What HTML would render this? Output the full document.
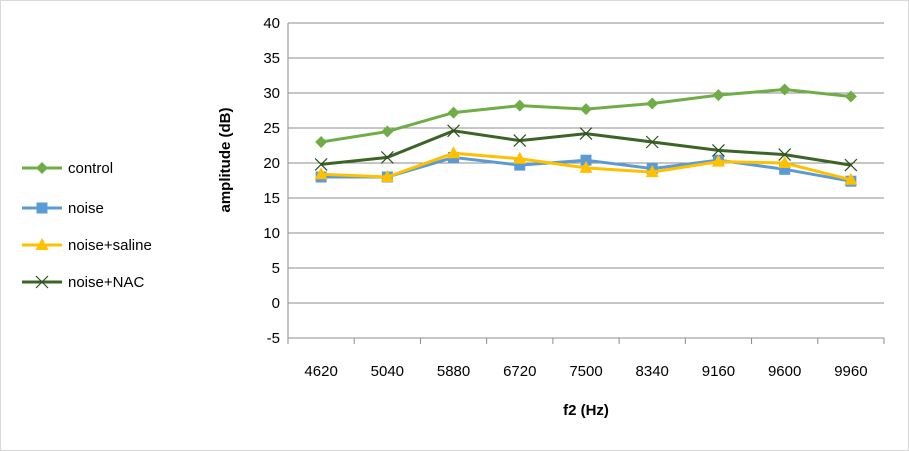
<!DOCTYPE html>
<html><head><meta charset="utf-8"><style>
body{margin:0;background:#fff}
svg{display:block;font-family:"Liberation Sans",sans-serif}
</style></head><body>
<svg id="c" width="909" height="451">
<rect x="0.5" y="0.5" width="908" height="450" fill="#fff" stroke="#d9d9d9"/>
<g id="grid"></g><g id="series"></g><g id="legend"></g>
<text x="230" y="160" font-size="15" font-weight="bold" text-anchor="middle" transform="rotate(-90 230 160)">amplitude (dB)</text>
<text x="586" y="415" font-size="15" font-weight="bold" text-anchor="middle">f2 (Hz)</text>
</svg>
<script>
const categories=["4620","5040","5880","6720","7500","8340","9160","9600","9960"];
const yTicks=[-5,0,5,10,15,20,25,30,35,40];
const control=[23,24.5,27.2,28.2,27.7,28.5,29.7,30.5,29.5];
const noise=[18,18,20.8,19.7,20.4,19.2,20.4,19.1,17.4];
const saline=[18.4,18,21.4,20.6,19.3,18.7,20.2,20,17.6];
const nac=[19.8,20.8,24.6,23.2,24.2,23,21.8,21.2,19.7];
const NS="http://www.w3.org/2000/svg";
const L=288,R=884,T=23,B=338;
const yS=v=>B-(v+5)/45*(B-T);
const bw=(R-L)/categories.length;
const xS=i=>L+bw*(i+0.5);
function mk(tag,attrs,parent){const e=document.createElementNS(NS,tag);for(const k in attrs)e.setAttribute(k,attrs[k]);parent.appendChild(e);return e;}
const g=document.getElementById('grid');
yTicks.forEach(v=>{
 const l=mk('line',{x1:L,x2:R,y1:yS(v),y2:yS(v),stroke:'#8c8c8c','stroke-width':1},g);
 
 
 const t=mk('text',{x:L-8,y:yS(v)+5,'font-size':15,'text-anchor':'end'},g);t.textContent=v;
 
 
});
const ax=mk('line',{x1:L,x2:L,y1:T,y2:B,stroke:'#8c8c8c'},g);


for(let i=0;i<=categories.length;i++){const tk=mk('line',{x1:L+bw*i,x2:L+bw*i,y1:B,y2:B+6,stroke:'#8c8c8c'},g);
 
 }
categories.forEach((c,i)=>{const t=mk('text',{x:xS(i),y:376,'font-size':15,'text-anchor':'middle'},g);t.textContent=c;
 
 });
function marker(type,x,y,col,p){
 let e;
 if(type==='d')e=mk('polygon',{points:`${x},${y-6} ${x+6},${y} ${x},${y+6} ${x-6},${y}`,fill:col},p);
 else if(type==='s')e=mk('rect',{x:x-5.5,y:y-5.5,width:11,height:11,fill:col},p);
 else if(type==='t')e=mk('polygon',{points:`${x},${y-7} ${x+6.5},${y+5} ${x-6.5},${y+5}`,fill:col},p);
 else e=mk('path',{d:`M${x-6},${y-6}L${x+6},${y+6}M${x-6},${y+6}L${x+6},${y-6}`,stroke:col,'stroke-width':1.2,fill:'none'},p);
 return e;
}
const series=[["control",control,"#70ad47","d"],["noise",noise,"#5b9bd5","s"],["noise+saline",saline,"#ffc000","t"],["noise+NAC",nac,"#3b6426","x"]];
const sg=document.getElementById('series');
series.forEach(([name,vals,col,m])=>{
 const p=mk('polyline',{points:vals.map((v,i)=>xS(i)+','+yS(v)).join(' '),fill:'none',stroke:col,'stroke-width':3},sg);
 
 
 vals.forEach((v,i)=>{const e=marker(m,xS(i),yS(v),m==='x'?'#2f4f1f':col,sg);
  
  });
});
const lg=document.getElementById('legend');
const ly=[168,208,245,282];
series.forEach(([name,vals,col,m],k)=>{
 const y=ly[k];
 const l=mk('line',{x1:22,x2:62,y1:y,y2:y,stroke:col,'stroke-width':3},lg);
 
 
 marker(m,42,y,m==='x'?'#2f4f1f':col,lg);
 const t=mk('text',{x:68,y:y+5,'font-size':15},lg);t.textContent=name;
 
 
});
</script>
</body></html>
